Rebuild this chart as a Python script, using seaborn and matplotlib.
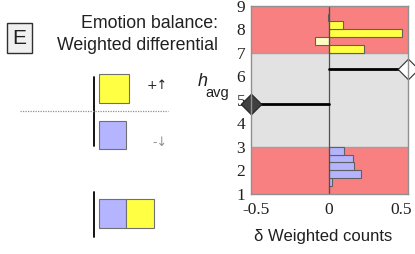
import numpy as np
import pandas as pd
import matplotlib
matplotlib.use("Agg")
import matplotlib.pyplot as plt
from matplotlib.patches import Rectangle
from matplotlib.lines import Line2D
import seaborn as sns

# ---- data ----
bin_width = 1.0 / 3.0
top_centers = [7 + bin_width * (k + 0.5) for k in range(6)]
top_values = [0.246, -0.094, 0.503, 0.099, -0.004, 0.0]
bottom_centers = [1 + bin_width * (k + 0.5) for k in range(6)]
bottom_values = [0.0, 0.021, 0.221, 0.176, 0.169, 0.106]
h_avg_ref = 4.82    # dark diamond (left)
h_avg_comp = 6.31   # white diamond (right)
x_ticks = [-0.5, 0, 0.5]
x_tick_labels = ["-0.5", "0", "0.5"]
y_ticks = [1, 2, 3, 4, 5, 6, 7, 8, 9]

W, H = 415, 254
sns.set_theme(style="white")
plt.rcParams['font.family'] = ['Liberation Sans', 'DejaVu Sans']

fig = plt.figure(figsize=(W / 100, H / 100), dpi=100)
fig.patch.set_facecolor("white")

def fx(px):
    return px / W

def fy(py):
    return 1 - py / H

ax_l, ax_r, ax_t, ax_b = 250.7, 407.7, 5.7, 193.7
ax = fig.add_axes([fx(ax_l), fy(ax_b), (ax_r - ax_l) / W, (ax_b - ax_t) / H])

xmin, xmax = -0.54, 0.545
ax.set_xlim(xmin, xmax)
ax.set_ylim(1, 9)

red = "#F88080"
gray = "#E2E2E2"
ax.axhspan(1, 3, color=red, zorder=0, lw=0)
ax.axhspan(7, 9, color=red, zorder=0, lw=0)
ax.axhspan(3, 7, color=gray, zorder=0, lw=0)
ax.axhline(3, color="#A0A0A0", lw=1.0, zorder=0.5)
ax.axhline(7, color="#A0A0A0", lw=1.0, zorder=0.5)

rows = []
for c, v in zip(top_centers, top_values):
    rows.append({"center": c, "value": v, "kind": "up" if v >= 0 else "upneg"})
for c, v in zip(bottom_centers, bottom_values):
    rows.append({"center": c, "value": v, "kind": "down"})
df = pd.DataFrame(rows)
palette = {"up": "#FFFF44", "upneg": "#FFFFC4", "down": "#B4B4FF"}
sns.barplot(data=df, x="value", y="center", hue="kind", palette=palette,
            orient="h", native_scale=True, dodge=False, width=1.0,
            edgecolor="#606060", linewidth=0.8, legend=False, saturation=1,
            ax=ax, zorder=2)
ax.set_ylim(1, 9)
ax.set_xlim(xmin, xmax)

ax.axvline(0, color="#505050", lw=0.9, zorder=3)

lines = pd.DataFrame({
    "x": [0, xmin, 0, xmax],
    "y": [h_avg_ref, h_avg_ref, h_avg_comp, h_avg_comp],
    "g": ["ref", "ref", "comp", "comp"],
})
sns.lineplot(data=lines, x="x", y="y", units="g", estimator=None, color="black",
             lw=2.0, ax=ax, zorder=4, sort=False)
ax.scatter([xmin], [h_avg_ref], marker="D", s=110, color="#404040",
           edgecolor="#202020", lw=0.8, zorder=5, clip_on=False)
ax.scatter([xmax], [h_avg_comp], marker="D", s=110, color="white",
           edgecolor="#303030", lw=0.8, zorder=5, clip_on=False)

ax.set_xticks(x_ticks)
ax.set_xticklabels(x_tick_labels)
ax.set_yticks(y_ticks)
ax.set_yticklabels([str(t) for t in y_ticks])
for lab in ax.get_xticklabels() + ax.get_yticklabels():
    lab.set_fontfamily("Liberation Serif")
    lab.set_fontsize(12.5)
    lab.set_color("#202020")
ax.tick_params(axis="x", length=0, pad=6)
ax.tick_params(axis="y", length=0, pad=4)
ax.set_xlabel("δ Weighted counts", fontsize=12, color="#202020")
ax.xaxis.set_label_coords((323.5 - ax_l) / (ax_r - ax_l), -(237 - ax_b) / (ax_b - ax_t))
ax.xaxis.label.set_va("center")
ax.set_ylabel("")
for s in ax.spines.values():
    s.set_color("#909090")
    s.set_linewidth(1.0)
    s.set_zorder(6)

# ---- left side annotations ----
fig.text(fx(218), fy(24), "Emotion balance:", ha="right", va="center",
         fontsize=12.8, color="#202020")
fig.text(fx(218), fy(45), "Weighted differential", ha="right", va="center",
         fontsize=12.8, color="#202020")
fig.text(fx(19.5), fy(38), "E", ha="center", va="center", fontsize=15, color="#202020",
         bbox=dict(boxstyle="square,pad=0.28", fc="#F0F0F0", ec="#303030", lw=1.0))

def rect(x0, y0, x1, y1, color):
    fig.add_artist(Rectangle((fx(x0), fy(y1)), (x1 - x0) / W, (y1 - y0) / H,
                             transform=fig.transFigure, facecolor=color,
                             edgecolor="#707070", lw=0.8))

def vline(x, y0, y1, **kw):
    fig.add_artist(Line2D([fx(x), fx(x)], [fy(y0), fy(y1)], transform=fig.transFigure, **kw))

vline(94, 77, 146, color="black", lw=1.3)
fig.add_artist(Line2D([fx(20), fx(168)], [fy(111), fy(111)], transform=fig.transFigure,
                      color="#909090", lw=0.9, ls=(0, (1, 1))))
rect(99, 74, 129, 103, palette["up"])
rect(99, 121, 126, 149, palette["down"])
fig.text(fx(157), fy(85), "+↑", ha="center", va="center", fontsize=9, color="#202020",
         family=["DejaVu Sans"])
fig.text(fx(160), fy(143), "-↓", ha="center", va="center", fontsize=9, color="#909090",
         family=["DejaVu Sans"])

vline(94, 192, 237, color="black", lw=1.3)
rect(99, 199, 126, 228, palette["down"])
rect(126, 199, 154, 228, palette["up"])

fig.text(fx(198), fy(82), "h", ha="left", va="center", fontsize=13, style="italic",
         color="#202020")
fig.text(fx(205), fy(93), "avg", ha="left", va="center", fontsize=10.5, color="#202020")

fig.savefig("out.png", dpi=100)
